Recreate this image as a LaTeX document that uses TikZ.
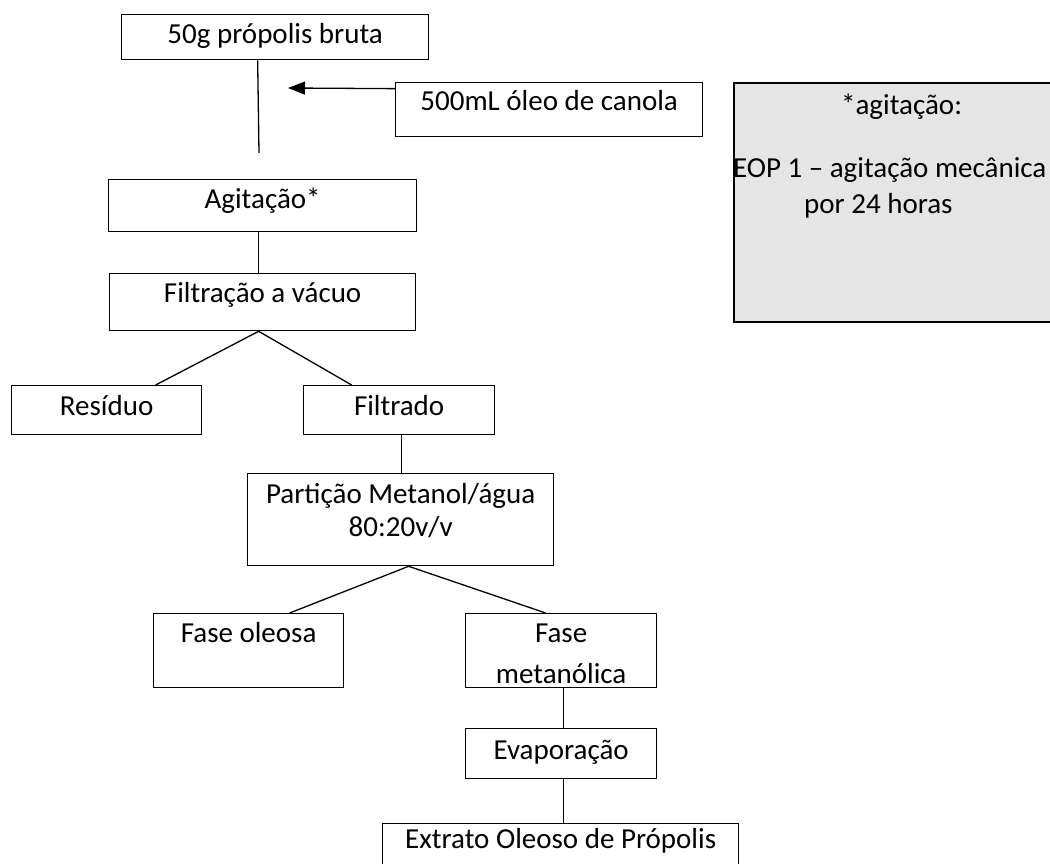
\documentclass[tikz,border=0pt]{standalone}
\usepackage{fontspec}
\setmainfont{Carlito}
\usetikzlibrary{arrows.meta}
% box content: [baseline depth of first line]{width}{height}{text}, text hung from the top
\newcommand{\flowtext}[4][29]{\parbox[c][#3pt][t]{#2pt}{\centering\rule{0pt}{#1pt}#4}}
\begin{document}
\begin{tikzpicture}[x=1pt,y=-1pt,
  flowbox/.style={draw, line width=1.3pt, inner sep=0pt, anchor=north west,
    font=\fontsize{29}{35}\selectfont},
  notebox/.style={draw, line width=2.3pt, fill=black!10, inner sep=0pt, anchor=north west,
    font=\fontsize{29}{35}\selectfont},
  link/.style={line width=1.3pt}]
\useasboundingbox (0,0) rectangle (1050,864);

% process steps
\node[flowbox] (src)   at (121,14)  {\flowtext{307}{45}{50g própolis bruta}};
\node[flowbox] (oil)   at (395,82)  {\flowtext[28]{307}{54}{500mL óleo de canola}};
\node[flowbox] (agit)  at (108,179) {\flowtext{308}{52}{Agitação*}};
\node[flowbox] (filt)  at (109,273) {\flowtext{306}{57}{Filtração a vácuo}};
\node[flowbox] (res)   at (11,385)  {\flowtext[30]{190}{49}{Resíduo}};
\node[flowbox] (filtr) at (303,385) {\flowtext[30]{191}{49}{Filtrado}};
\node[flowbox] (part)  at (247,473) {\flowtext[30]{306}{92}{Partição Metanol/água\\[-2pt]80:20v/v}};
\node[flowbox] (oleo)  at (153,613) {\flowtext{190}{74}{Fase oleosa}};
\node[flowbox] (metan) at (465,613) {\flowtext{191}{74}{Fase\\[6pt]metanólica}};
\node[flowbox] (evap)  at (465,728) {\flowtext[31]{191}{50}{Evaporação}};
\node[flowbox] (extr)  at (382,823) {\flowtext[25]{356}{60}{Extrato Oleoso de Própolis}};

% side note on the stirring step
\node[notebox] (note) at (733,82) {\parbox[c][239pt][t]{400pt}{\raggedright
  \rule{0pt}{31pt}\hspace*{107pt}*agitação:\\[28pt]
  \hspace*{-1pt}EOP 1 – agitação mecânica\\[1pt]
  \hspace*{70pt}por 24 horas}};

% connectors
\coordinate (stemend) at (259,153);
\coordinate (oilin) at (288,88);
\draw[link] ([xshift=-17.5pt]src.south) -- (stemend);
\draw[link, -{Triangle[length=17pt,width=13pt]}] ([yshift=21pt]oil.west) -- (oilin);
\draw[link] ([xshift=-4pt]agit.south) -- ([xshift=-4pt]filt.north);
\draw[link] ([xshift=49pt]res.north) -- ([xshift=-4pt]filt.south) -- ([xshift=-47.5pt]filtr.north);
\draw[link] ([xshift=2.5pt]filtr.south) -- ([xshift=1pt]part.north);
\draw[link] ([xshift=41pt]oleo.north) -- ([xshift=8pt]part.south) -- ([xshift=-15.5pt]metan.north);
\draw[link] ([xshift=2.5pt]metan.south) -- ([xshift=2.5pt]evap.north);
\draw[link] ([xshift=2.5pt]evap.south) -- ([xshift=3pt]extr.north);
\end{tikzpicture}
\end{document}
